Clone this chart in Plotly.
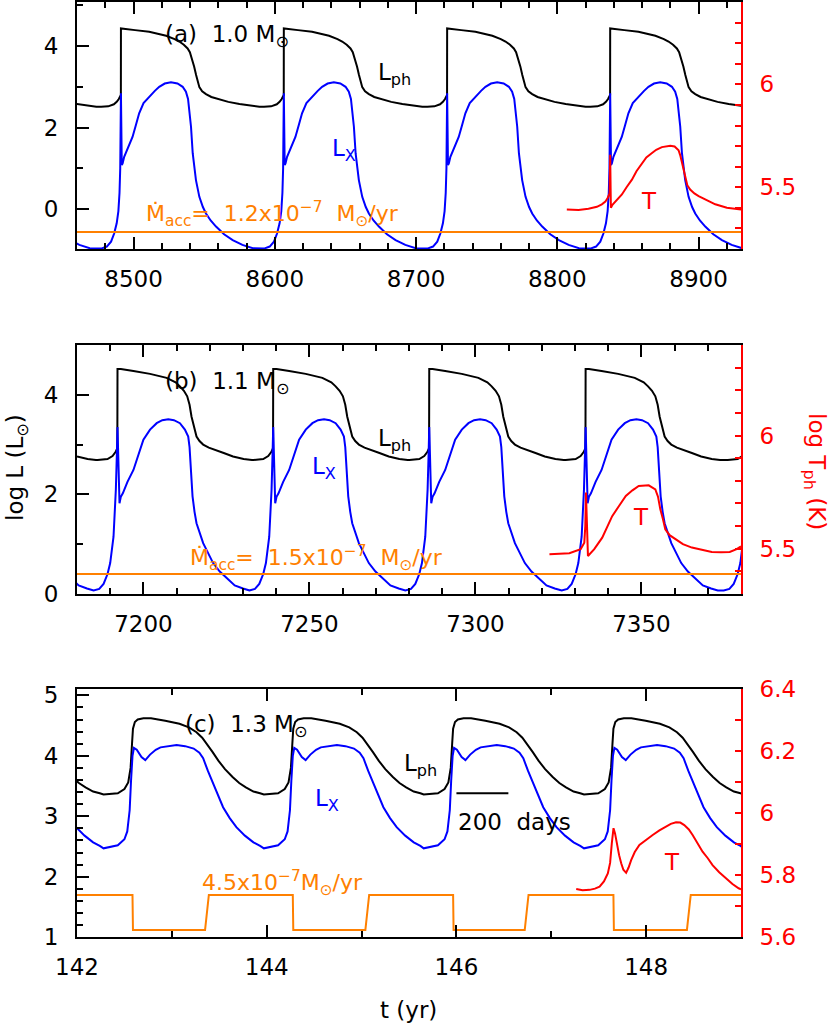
import plotly.graph_objects as go

# ---------------- data ----------------
# Panel (a) 1.0 Msun : cycle starts (yr) and one-cycle profiles (dt in yr from flash onset)
a_starts = [8375.7, 8491.1, 8606.4, 8722.0, 8837.4]
a_lph_dt = [-14, -9, -5, -3, -1.5, -0.5, -0.05, 0, 3.5, 10, 20, 32, 38, 41.3, 44.5, 47.2, 48.8, 50.3,
            51.8, 53.2, 54.5, 55.5, 57.5, 60.2, 64, 69.7, 76, 83.9, 91, 98]
a_lph = [2.51, 2.52, 2.57, 2.63, 2.70, 2.76, 2.80, 4.43, 4.42, 4.39, 4.35, 4.25, 4.17, 4.11, 4.03, 3.94,
         3.85, 3.70, 3.50, 3.29, 3.10, 2.99, 2.89, 2.82, 2.75, 2.69, 2.63, 2.58, 2.54, 2.51]
a_lx_dt = [-14, -10, -7, -4.8, -3, -1.8, -1.0, -0.5, -0.15, 0, 0.6, 1.2, 2.3, 4.5, 8.2, 10.5, 12.9, 16, 20,
           24, 27.1, 31, 35.4, 40, 43.7, 46, 47.5, 48.5, 49.6, 50.8, 52, 53.1, 55.5, 58, 60.2, 63.5, 67.3,
           73, 79.1, 86, 93.3, 100]
a_lx = [-0.97, -0.92, -0.80, -0.60, -0.35, -0.05, 0.4, 1.0, 1.8, 2.84, 1.08, 1.12, 1.28, 1.47, 1.77, 2.05,
        2.35, 2.60, 2.76, 2.90, 3.00, 3.08, 3.11, 3.08, 3.00, 2.88, 2.70, 2.40, 2.02, 1.37, 1.00, 0.71,
        0.30, 0.05, -0.11, -0.28, -0.43, -0.62, -0.76, -0.88, -0.96, -0.97]
a_macc_t = [8460, 8930]
a_macc = [-0.56, -0.56]
a_T_t = [8806.7, 8815, 8822, 8828, 8831.5, 8834, 8835.7, 8837.0, 8837.4, 8837.9, 8839, 8840.9, 8843,
         8845.7, 8849, 8852.8, 8856, 8859.9, 8863, 8867, 8870, 8874, 8877, 8880, 8883, 8885.8, 8887,
         8888.2, 8889.4, 8890.6, 8892, 8894, 8897, 8900, 8905, 8911.8, 8920, 8930]
a_T = [5.392, 5.39, 5.396, 5.405, 5.417, 5.43, 5.449, 5.47, 5.658, 5.40, 5.415, 5.43, 5.445, 5.465, 5.50,
       5.537, 5.578, 5.618, 5.645, 5.666, 5.682, 5.695, 5.700, 5.702, 5.698, 5.68, 5.655, 5.618, 5.575,
       5.537, 5.51, 5.489, 5.47, 5.457, 5.44, 5.417, 5.40, 5.392]

# Panel (b) 1.1 Msun
b_starts = [7145.2, 7192.2, 7239.1, 7286.1, 7333.2, 7382.0]
b_lph_dt = [-6, -3, -1.5, -0.6, -0.05, 0, 1, 4.8, 9.8, 14.8, 17.5, 18.8, 20, 21, 21.7, 22.3, 23, 23.8,
            24.7, 25.8, 27.5, 29.8, 32, 34.8, 38, 40.5]
b_lph = [2.69, 2.71, 2.77, 2.85, 2.93, 4.52, 4.52, 4.48, 4.42, 4.34, 4.25, 4.17, 4.08, 3.97, 3.80, 3.56,
         3.35, 3.16, 3.07, 3.00, 2.94, 2.89, 2.83, 2.76, 2.71, 2.69]
b_lx_dt = [-7.2, -5.5, -4.2, -3.0, -2.2, -1.2, -0.5, -0.2, 0, 0.6, 1.0, 1.6, 3.0, 4.8, 6.3, 7.8, 9.8, 11.8,
           13.5, 15.3, 17, 18.8, 20.3, 21.3, 21.7, 22.0, 22.6, 23.2, 23.8, 25.8, 28.8, 30.8, 32.8, 35.3,
           37.8, 39.8]
b_lx = [0.07, 0.10, 0.20, 0.40, 0.62, 1.15, 2.09, 2.8, 3.35, 1.82, 1.95, 2.02, 2.25, 2.49, 2.80, 3.10,
        3.30, 3.43, 3.49, 3.51, 3.49, 3.43, 3.30, 3.16, 2.95, 2.63, 1.96, 1.65, 1.42, 1.02, 0.62, 0.45,
        0.32, 0.17, 0.11, 0.07]
b_macc_t = [7180, 7380]
b_macc = [0.40, 0.40]
b_T_t = [7322.3, 7328.3, 7331.7, 7332.8, 7333.1, 7333.3, 7333.9, 7335.8, 7338.2, 7341.2, 7343.3, 7345.3,
         7347.3, 7349.2, 7352.2, 7354.2, 7355.0, 7355.7, 7356.5, 7357.2, 7358.5, 7360.2, 7362.5, 7365.2,
         7368, 7371.2, 7374, 7376.6, 7378.7, 7380]
b_T = [5.476, 5.48, 5.498, 5.527, 5.60, 5.748, 5.468, 5.498, 5.549, 5.644, 5.69, 5.733, 5.758, 5.777,
       5.78, 5.762, 5.73, 5.674, 5.63, 5.586, 5.56, 5.542, 5.52, 5.505, 5.495, 5.486, 5.484, 5.486, 5.498,
       5.51]

# Panel (c) 1.3 Msun
c_starts = [140.89, 142.58, 144.27, 145.955, 147.645, 149.335]
c_lph_dt = [-0.30, -0.15, -0.08, -0.04, -0.015, 0.0, 0.01, 0.03, 0.06, 0.12, 0.2, 0.35, 0.5, 0.6, 0.68,
            0.74, 0.79, 0.85, 0.91, 0.98, 1.06, 1.13, 1.2, 1.28, 1.35]
c_lph = [3.36, 3.38, 3.45, 3.56, 3.80, 4.20, 4.45, 4.56, 4.60, 4.62, 4.62, 4.58, 4.53, 4.47, 4.39, 4.30,
         4.20, 4.06, 3.92, 3.78, 3.65, 3.55, 3.48, 3.41, 3.38]
c_lx_dt = [-0.30, -0.15, -0.08, -0.05, -0.025, -0.01, 0.005, 0.02, 0.05, 0.10, 0.14, 0.19, 0.25, 0.30,
           0.40, 0.47, 0.56, 0.65, 0.71, 0.75, 0.80, 0.857, 0.91, 0.96, 1.03, 1.10, 1.19, 1.28, 1.35]
c_lx = [2.47, 2.52, 2.62, 2.75, 3.10, 3.60, 4.00, 4.13, 4.10, 3.98, 3.93, 4.02, 4.10, 4.14, 4.17, 4.18,
        4.16, 4.12, 4.05, 3.96, 3.75, 3.54, 3.32, 3.15, 2.97, 2.82, 2.68, 2.57, 2.51]
c_macc_t = [142.0, 142.585, 142.59, 143.35, 143.39, 144.275, 144.28, 145.04, 145.08, 145.965, 145.97,
            146.72, 146.76, 147.655, 147.66, 148.43, 148.47, 149.0]
c_macc = [1.70, 1.70, 1.12, 1.12, 1.70, 1.70, 1.12, 1.12, 1.70, 1.70, 1.12, 1.12, 1.70, 1.70, 1.12, 1.12,
          1.70, 1.70]
c_T_t = [147.263, 147.33, 147.404, 147.46, 147.509, 147.555, 147.596, 147.62, 147.638, 147.656, 147.672,
         147.691, 147.715, 147.737, 147.76, 147.789, 147.815, 147.842, 147.88, 147.929, 148.0, 148.069,
         148.14, 148.21, 148.26, 148.315, 148.36, 148.402, 148.45, 148.49, 148.54, 148.595, 148.65,
         148.70, 148.77, 148.84, 148.91, 148.975, 149.0]
c_T = [5.756, 5.752, 5.753, 5.757, 5.763, 5.78, 5.806, 5.84, 5.903, 5.952, 5.935, 5.903, 5.865, 5.839,
       5.818, 5.808, 5.825, 5.849, 5.875, 5.898, 5.915, 5.93, 5.945, 5.957, 5.966, 5.971, 5.970, 5.962,
       5.948, 5.93, 5.905, 5.876, 5.855, 5.833, 5.81, 5.790, 5.772, 5.758, 5.755]

scale_bar_start = 146.0   # yr
scale_bar_days = 200

# ---------------- figure ----------------
W, H = 830, 1027
FONT = "DejaVu Sans"
BLACK, BLUE, RED, ORANGE = "#000000", "#0000ff", "#ff0000", "#ff8000"


def tile(starts, dts, vals):
    xs, ys = [], []
    for s in starts:
        for d, v in zip(dts, vals):
            xs.append(s + d)
            ys.append(v)
    return xs, ys


def px(x):
    return x / W


def py(y):
    return 1 - y / H


def sub(t):
    return f"<sub>{t}</sub>"


def sup(t):
    return f"<sup>{t}</sup>"


fig = go.Figure()

panels = [
    dict(x="x", yl="y", yr="y2", starts=a_starts, lph=(a_lph_dt, a_lph), lx=(a_lx_dt, a_lx),
         macc=(a_macc_t, a_macc), T=(a_T_t, a_T)),
    dict(x="x2", yl="y3", yr="y4", starts=b_starts, lph=(b_lph_dt, b_lph), lx=(b_lx_dt, b_lx),
         macc=(b_macc_t, b_macc), T=(b_T_t, b_T)),
    dict(x="x3", yl="y5", yr="y6", starts=c_starts, lph=(c_lph_dt, c_lph), lx=(c_lx_dt, c_lx),
         macc=(c_macc_t, c_macc), T=(c_T_t, c_T)),
]

for p in panels:
    xs, ys = tile(p["starts"], *p["lph"])
    fig.add_trace(go.Scatter(x=xs, y=ys, mode="lines", line=dict(color=BLACK, width=2),
                             xaxis=p["x"], yaxis=p["yl"], showlegend=False, hoverinfo="skip"))
    xs, ys = tile(p["starts"], *p["lx"])
    fig.add_trace(go.Scatter(x=xs, y=ys, mode="lines", line=dict(color=BLUE, width=2),
                             xaxis=p["x"], yaxis=p["yl"], showlegend=False, hoverinfo="skip"))
    fig.add_trace(go.Scatter(x=p["macc"][0], y=p["macc"][1], mode="lines",
                             line=dict(color=ORANGE, width=2),
                             xaxis=p["x"], yaxis=p["yl"], showlegend=False, hoverinfo="skip"))
    fig.add_trace(go.Scatter(x=p["T"][0], y=p["T"][1], mode="lines", line=dict(color=RED, width=2),
                             xaxis=p["x"], yaxis=p["yr"], showlegend=False, hoverinfo="skip"))

xdom = [px(77), px(741)]
ydoms = [[py(249), py(2)], [py(594), py(345)], [py(937.3), py(689.3)]]

tickfont = dict(family=FONT, size=23, color=BLACK)
redfont = dict(family=FONT, size=23, color=RED)


def xaxis_cfg(dom_y_anchor, rng, dtick, tick0, minor):
    return dict(domain=xdom, anchor=dom_y_anchor, range=rng, dtick=dtick, tick0=tick0,
                automargin=False,
                showline=True, linecolor=BLACK, linewidth=2, mirror="ticks",
                ticks="inside", ticklen=12, tickwidth=2, tickcolor=BLACK,
                minor=dict(dtick=minor, tick0=tick0, ticks="inside", ticklen=6, tickwidth=2,
                           tickcolor=BLACK, showgrid=False),
                showgrid=False, zeroline=False, tickfont=tickfont, ticklabelstandoff=8)


def yleft_cfg(dom, rng, dtick, tick0, minor, anchor):
    return dict(domain=dom, anchor=anchor, range=rng, dtick=dtick, tick0=tick0,
                automargin=False,
                showline=True, linecolor=BLACK, linewidth=2, mirror=False,
                ticks="inside", ticklen=12, tickwidth=2, tickcolor=BLACK,
                minor=dict(dtick=minor, tick0=tick0, ticks="inside", ticklen=6, tickwidth=2,
                           tickcolor=BLACK, showgrid=False),
                showgrid=False, zeroline=False, tickfont=tickfont, ticklabelstandoff=12)


def yright_cfg(overlay, anchor, rng, tickvals, minor):
    return dict(overlaying=overlay, anchor=anchor, side="right", range=rng,
                automargin=False,
                tickmode="array", tickvals=tickvals, ticktext=[f"{v:g}" for v in tickvals],
                showline=True, linecolor=RED, linewidth=2,
                ticks="inside", ticklen=6, tickwidth=2, tickcolor=RED,
                minor=dict(dtick=minor, tick0=5.0, ticks="inside", ticklen=6, tickwidth=2,
                           tickcolor=RED, showgrid=False),
                showgrid=False, zeroline=False, tickfont=redfont, ticklabelstandoff=12)


fig.update_layout(
    width=W, height=H, margin=dict(l=0, r=0, t=0, b=0, autoexpand=False),
    paper_bgcolor="white", plot_bgcolor="white",
    font=dict(family=FONT, size=23, color=BLACK),
    showlegend=False,
    xaxis=xaxis_cfg("y", [8460, 8930], 100, 8500, 20),
    xaxis2=xaxis_cfg("y3", [7180, 7380], 50, 7200, 10),
    xaxis3=xaxis_cfg("y5", [142, 149], 2, 142, 1),
    yaxis=yleft_cfg(ydoms[0], [-0.98, 5.08], 2, 0, 1, "x"),
    yaxis2=yright_cfg("y", "x", [5.2, 6.4], [5.5, 6.0], 0.1),
    yaxis3=yleft_cfg(ydoms[1], [-0.001, 5], 2, 0, 1, "x2"),
    yaxis4=yright_cfg("y3", "x2", [5.3, 6.4], [5.5, 6.0], 0.1),
    yaxis5=yleft_cfg(ydoms[2], [0.999, 5.1], 1, 1, 0.2, "x3"),
    yaxis6=yright_cfg("y5", "x3", [5.5999, 6.4001], [5.6, 5.8, 6.0, 6.2, 6.4], 0.1),
)

# scale bar (200 days)
fig.add_shape(type="line", xref="x3", yref="y5", x0=scale_bar_start,
              x1=scale_bar_start + scale_bar_days / 365.25, y0=3.38, y1=3.38,
              line=dict(color=BLACK, width=2))


def ann(text, x, y, color=BLACK, size=23, xanchor="left", angle=0):
    fig.add_annotation(text=text, x=px(x), y=py(y), xref="paper", yref="paper",
                       xanchor=xanchor, yanchor="middle", showarrow=False, textangle=angle,
                       font=dict(family=FONT, size=size, color=color))


SUN = "⊙"
# panel (a)
ann("(a)  1.0 M" + sub(SUN), 163, 36)
ann("L" + sub("ph"), 376, 74)
ann("L" + sub("X"), 330, 150, BLUE)
ann("Ṁ" + sub("acc") + "=  1.2x10" + sup("−7") + "  M" + sub(SUN) + "/yr", 144, 214, ORANGE, 22)
ann("T", 649, 201, RED, xanchor="center")
# panel (b)
ann("(b)  1.1 M" + sub(SUN), 163, 383)
ann("L" + sub("ph"), 376, 440)
ann("L" + sub("X"), 310, 468, BLUE)
ann("Ṁ" + sub("acc") + "=  1.5x10" + sup("−7") + "  M" + sub(SUN) + "/yr", 188, 558, ORANGE, 22)
ann("T", 641, 517, RED, xanchor="center")
# panel (c)
ann("(c)  1.3 M" + sub(SUN), 183, 726)
ann("L" + sub("ph"), 402, 765)
ann("L" + sub("X"), 313, 800, BLUE)
ann("4.5x10" + sup("−7") + "M" + sub(SUN) + "/yr", 200, 883, ORANGE, 22)
ann("T", 672, 862, RED, xanchor="center")
ann("200  days", 514, 822, xanchor="center")
# axis titles
ann("log L (L" + sub(SUN) + ")", 17, 468, xanchor="center", angle=-90)
ann("log T" + sub("ph") + " (K)", 815, 471, RED, xanchor="center", angle=90)
ann("t (yr)", 408, 1010, xanchor="center")

fig.write_html("out.html", config={"displayModeBar": False},
               post_script="document.body.style.margin='0';")
